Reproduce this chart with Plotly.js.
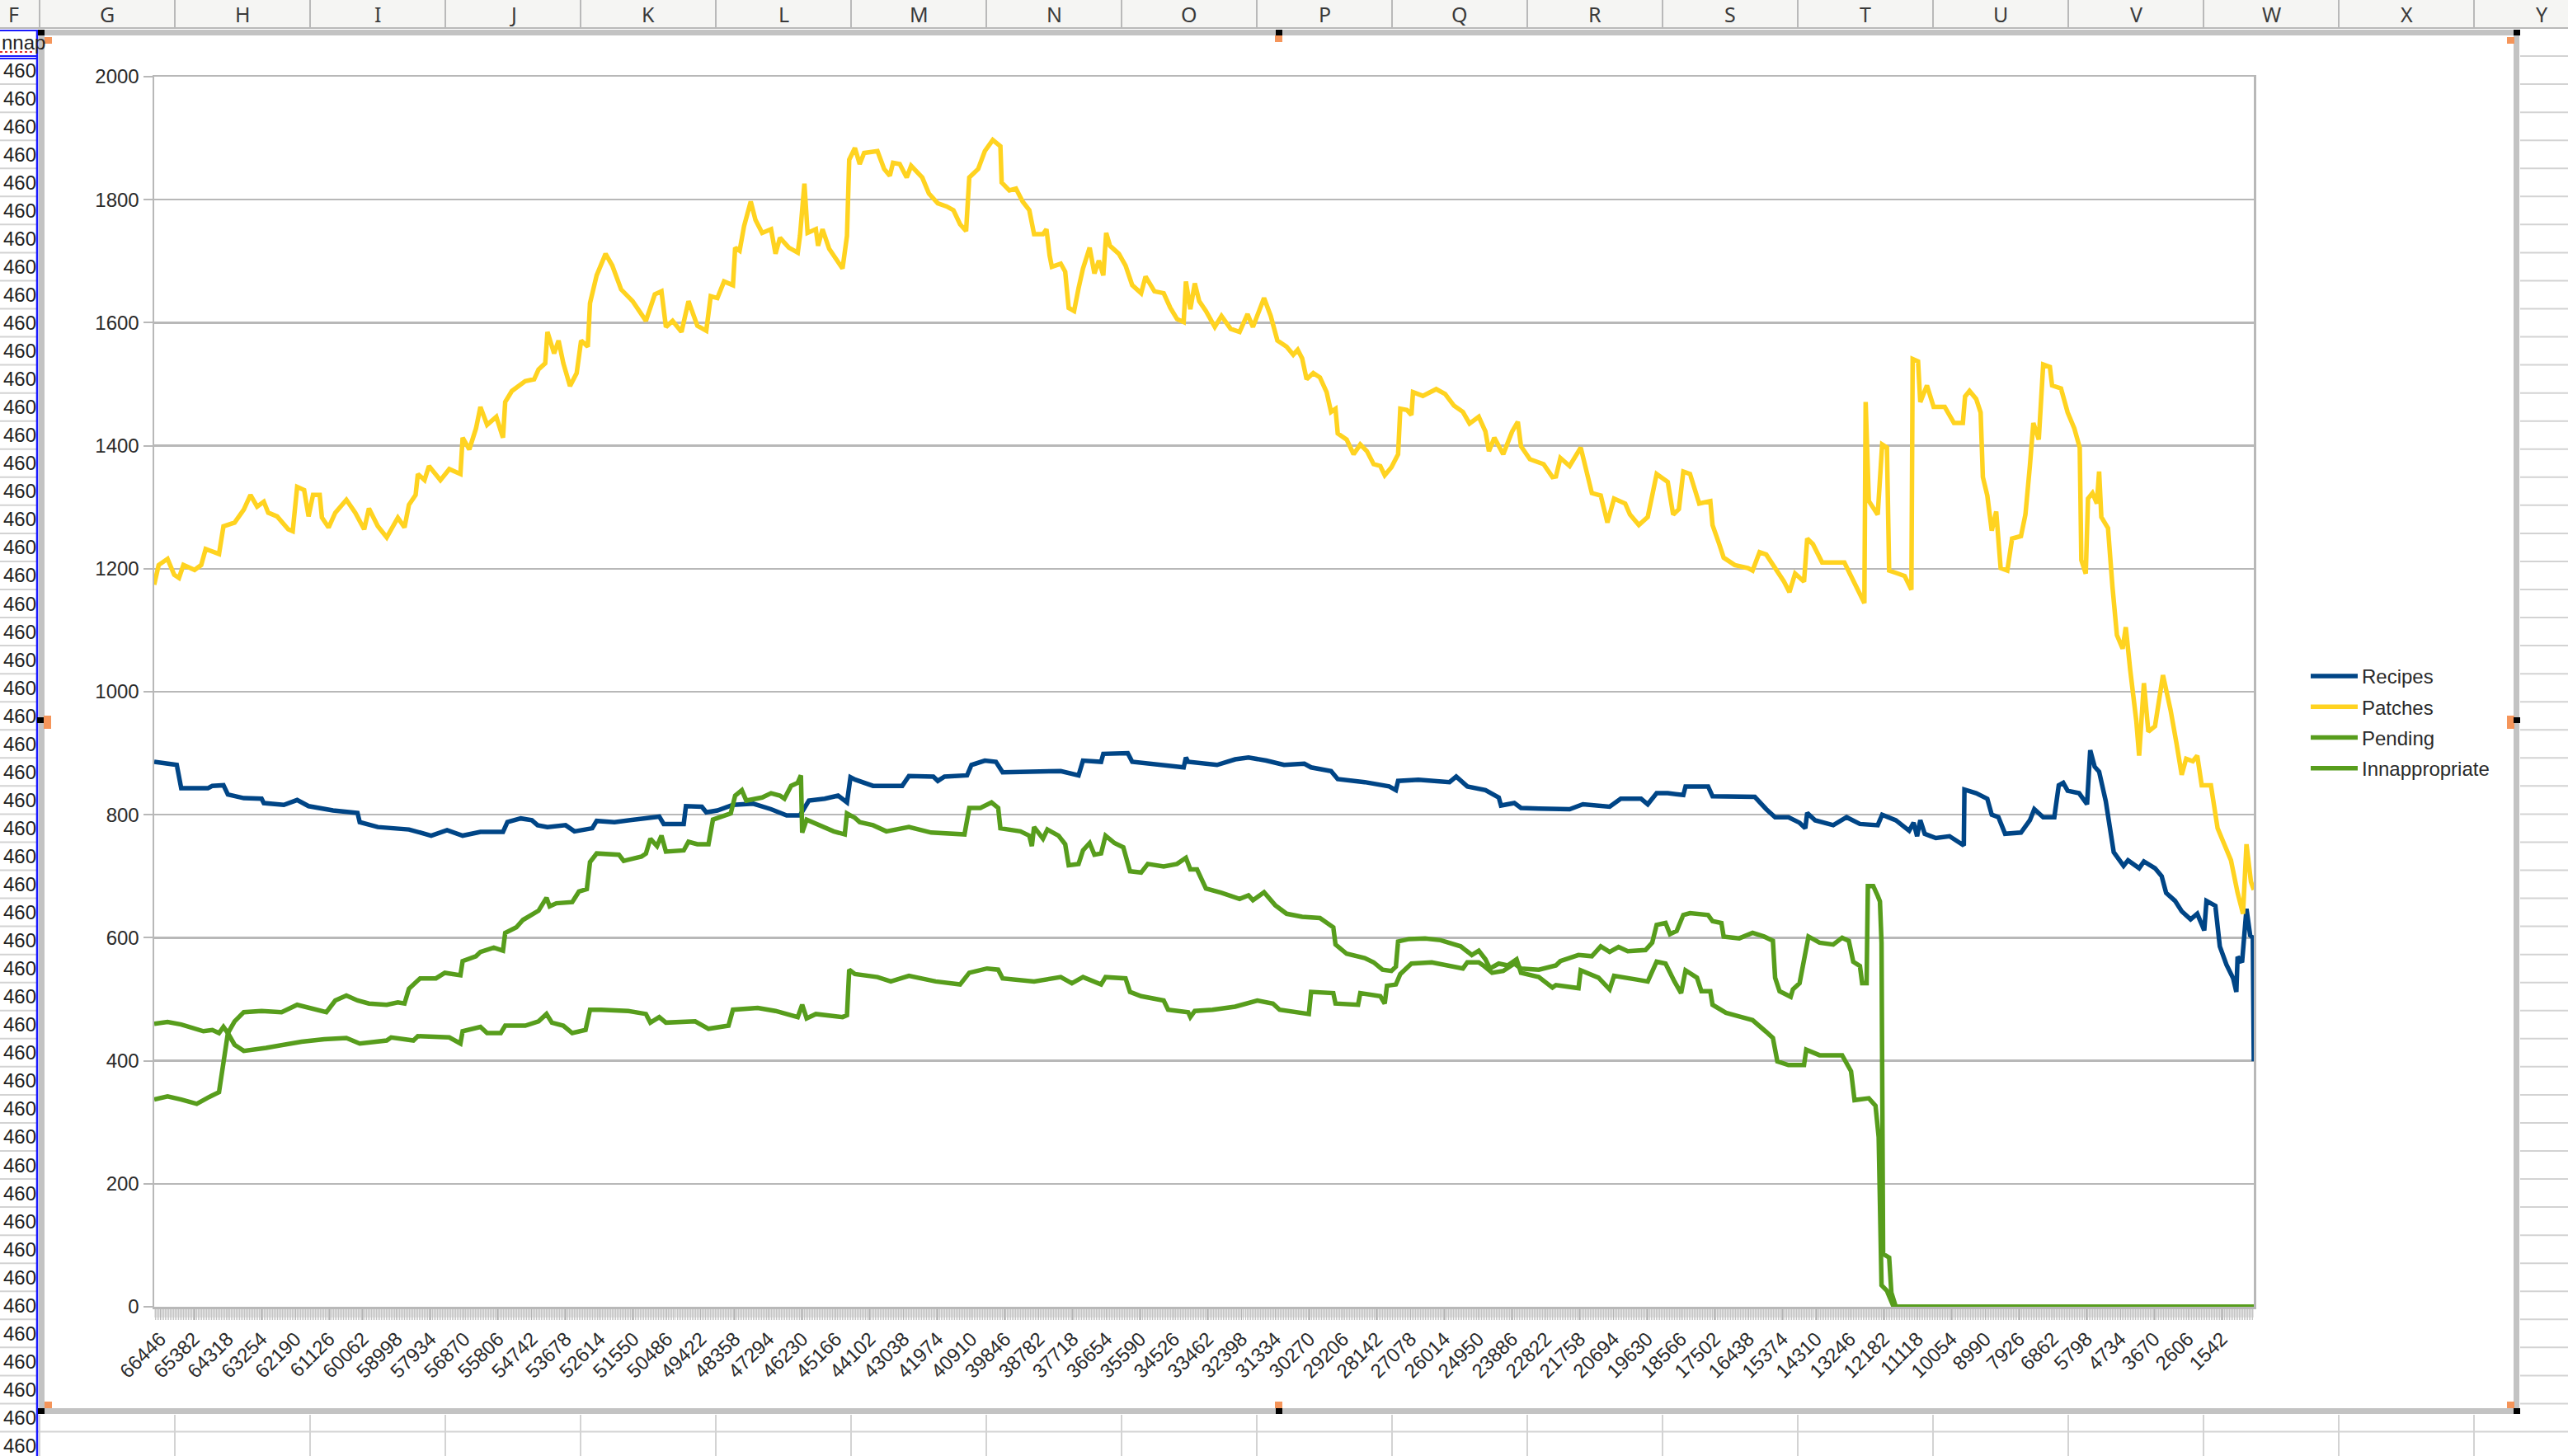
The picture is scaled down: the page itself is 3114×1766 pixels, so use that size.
<!DOCTYPE html>
<html><head><meta charset="utf-8">
<script src="https://cdn.plot.ly/plotly-3.0.1.min.js"></script>
<style>html,body{margin:0;padding:0;background:#fff;overflow:hidden}#chart{width:3114px;height:1766px}</style>
</head><body><div id="chart"></div>
<script>
// ---------- category tick labels (row ids) ----------
const tickLabels = [66446,65382,64318,63254,62190,61126,60062,58998,57934,56870,55806,54742,53678,52614,51550,50486,49422,48358,47294,46230,45166,44102,43038,41974,40910,39846,38782,37718,36654,35590,34526,33462,32398,31334,30270,29206,28142,27078,26014,24950,23886,22822,21758,20694,19630,18566,17502,16438,15374,14310,13246,12182,11118,10054,8990,7926,6862,5798,4734,3670,2606,1542];

const seriesNames = ["Recipes","Patches","Pending","Innappropriate"];

// ---------- Recipes ----------
const recipesX = [66630,65920,65780,64940,64800,64450,64310,63810,63250,63180,62550,62130,61770,61000,60230,60160,59590,58610,57910,57410,56920,56360,55650,55510,55090,54740,54560,54250,53680,53400,52840,52700,52140,51570,50730,50590,49960,49890,49390,49250,48900,48410,47770,47210,46720,46300,46020,45520,45100,44820,44710,44560,44000,43080,42870,42100,41960,41750,41040,40900,40480,40130,39920,38090,37530,37390,36820,36750,35980,35840,34990,34220,34150,34080,33170,32600,32180,31620,31060,30420,30210,29580,29370,28520,27750,27540,27470,26830,25850,25640,25290,24720,24300,24230,23810,23600,23040,22500,22070,21650,21090,20810,20460,19820,19610,19330,18980,18490,18420,17710,17570,17150,16240,15880,15600,15180,14830,14650,14590,14340,13770,13350,12930,12370,12230,11800,11380,11240,11130,11030,10890,10540,10110,9660,9640,9270,8920,8780,8570,8360,7860,7580,7440,7160,6810,6670,6530,6390,6030,5780,5680,5540,5400,5190,5050,4940,4630,4490,4140,3990,3640,3430,3290,3010,2800,2520,2310,2090,2020,1740,1600,1390,1180,1080,1040,900,760,645,560,530];
const recipesY = [886,881,843,843,847,848,833,827,826,819,816,824,814,807,803,788,780,776,766,775,766,772,772,788,794,791,783,780,783,773,778,790,788,791,797,785,785,814,813,804,807,816,818,809,799,799,823,826,831,820,861,857,847,847,863,862,855,862,864,881,888,886,869,871,864,888,886,899,900,886,881,877,893,886,881,890,893,888,881,883,877,871,858,853,846,840,855,857,853,862,846,840,828,815,819,811,810,809,809,817,815,813,826,826,817,835,835,832,846,846,830,830,829,809,796,796,787,778,803,791,783,796,785,783,800,791,774,787,765,791,769,762,765,750,841,835,826,800,796,769,771,791,809,796,796,848,852,839,835,817,905,878,870,822,778,739,717,726,713,724,713,700,673,660,643,630,639,612,660,652,586,556,534,512,569,560,647,604,600,399];

// ---------- Patches ----------
const patchesX = [66630,66490,66210,66000,65850,65710,65360,65150,65010,64590,64450,64100,63810,63600,63390,63180,63040,62760,62410,62270,62130,61910,61770,61630,61420,61350,61140,60930,60580,60300,60020,59870,59590,59310,58960,58750,58610,58400,58330,58120,57980,57620,57340,56990,56920,56710,56500,56360,56150,55860,55650,55580,55370,54950,54670,54530,54320,54250,54040,53900,53750,53540,53330,53190,52980,52910,52700,52420,52210,51930,51570,51150,50870,50660,50520,50310,50030,49810,49530,49250,49110,48900,48690,48410,48340,48200,48060,47850,47700,47490,47210,47070,46930,46650,46370,46300,46160,46060,45800,45730,45590,45380,45170,44960,44820,44750,44570,
44420,44280,43860,43650,43470,43370,43160,42940,42800,42450,42240,41960,41680,41470,41260,41070,40970,40690,40480,40230,39990,39950,39710,39500,39290,39080,38930,38650,38540,38440,38370,38090,37950,37840,37670,37530,37390,37180,37030,36890,36750,36660,36540,36260,36050,35840,35560,35420,35140,34850,34640,34430,34220,34150,34010,33870,33730,33520,33240,33030,32740,32460,32210,32040,31830,31690,31480,31270,30980,30770,30630,30490,30350,30140,29930,29720,29580,29440,29370,29090,28870,28660,28450,28240,28030,27890,27680,27470,27400,27190,27050,27000,26690,26270,25990,25710,25430,25220,24930,24720,24610,24440,24160,23880,23700,23600,23320,22890,22610,
22500,22360,22070,21720,21510,21370,21090,20880,20670,20320,20170,19890,19610,19470,19330,18980,18810,18630,18490,18280,17990,17640,17570,17360,17220,16870,16450,16310,16090,15880,15600,15320,15150,14970,14690,14590,14410,14120,13700,13420,13210,12930,12790,12750,12650,12370,12230,12080,12010,11730,11520,11310,11270,11100,11030,10820,10610,10260,9970,9690,9620,9480,9270,9130,9060,8920,8780,8640,8500,8290,8140,7860,7720,7580,7470,7300,7160,6950,6880,6600,6390,6180,6010,5960,5820,5750,5610,5470,5400,5330,5120,4980,4840,4660,4560,4420,4230,4140,3990,3850,3640,3390,3150,2970,2800,2660,2450,2310,2170,1880,1670,1460,1250,1040,870,760,620,530];
const patchesY = [1174,1206,1216,1190,1185,1206,1198,1206,1232,1224,1269,1275,1296,1320,1301,1309,1291,1285,1264,1261,1333,1328,1285,1320,1320,1283,1267,1291,1312,1291,1264,1298,1269,1251,1283,1267,1304,1320,1354,1344,1367,1344,1362,1354,1413,1394,1428,1463,1434,1447,1413,1471,1489,1505,1508,1524,1534,1585,1550,1571,1534,1497,1518,1571,1561,1632,1677,1712,1693,1654,1635,1603,1646,1651,1593,1603,1585,1635,1595,1587,1643,1640,1667,1661,1722,1717,1757,1797,1767,1746,1752,1712,1738,1722,1714,1741,1826,1746,1752,1725,1752,1720,1704,1688,1741,1865,1884,
1858,1876,1879,1850,1839,1860,1858,1836,1855,1836,1810,1794,1789,1783,1760,1749,1836,1850,1879,1897,1887,1828,1815,1818,1797,1783,1744,1744,1752,1709,1691,1696,1683,1624,1619,1656,1688,1722,1680,1701,1677,1746,1725,1712,1693,1661,1648,1675,1651,1648,1624,1606,1601,1667,1622,1664,1635,1619,1593,1611,1590,1585,1614,1593,1619,1640,1611,1571,1561,1548,1556,1542,1508,1518,1511,1487,1455,1460,1420,1410,1386,1402,1391,1370,1367,1352,1365,1386,1460,1458,1450,1487,1481,1492,1484,1465,1455,1436,1447,1423,1391,1413,1386,1423,1439,1399,1378,1370,1349,
1350,1380,1367,1397,1354,1323,1319,1275,1314,1306,1288,1271,1284,1319,1354,1341,1288,1297,1358,1354,1306,1310,1271,1240,1218,1206,1201,1197,1227,1223,1201,1179,1162,1192,1179,1249,1240,1210,1210,1210,1188,1157,1144,1471,1310,1288,1402,1397,1197,1192,1188,1166,1541,1537,1471,1498,1463,1463,1437,1437,1480,1489,1476,1454,1349,1319,1262,1293,1201,1197,1249,1253,1288,1367,1437,1410,1532,1528,1498,1493,1454,1428,1397,1214,1192,1314,1323,1306,1358,1284,1266,1171,1092,1070,1105,1035,953,896,1014,935,944,1027,970,918,865,891,887,896,848,848,778,752,726,673,639,752,691,678];

// ---------- Pending ----------
const pendingX = [66630,66210,65780,65500,65080,64800,64590,64450,64310,64100,63810,63110,62550,61990,61280,60580,60160,59310,59170,58470,58330,57340,56990,56920,56360,56150,55720,55580,54950,54530,54280,54110,53750,53470,53050,52910,52560,51710,51150,51010,50730,50520,49600,49180,48550,48410,47630,47070,46370,46230,46090,45800,44960,44820,44750,44570,
43860,43440,42870,42030,41260,40970,40410,40060,39920,38930,38090,37740,37390,36820,36680,36050,35910,35560,34850,34710,34080,34010,33870,33310,32600,31900,31410,31200,30280,30210,29510,29440,28730,28660,28030,27890,27820,27540,27400,27050,26410,25850,25430,25290,24930,24790,24510,24160,23810,23600,23040,22500,
22360,21790,21370,21090,20810,20530,20240,19680,19470,19330,19050,18910,18700,18490,18280,17710,17570,17290,17220,16730,16310,15950,15670,15600,15460,15110,15040,14830,14690,14550,14200,13770,13490,13280,13140,12930,12860,12720,12680,12510,12370,12300,12250,12230,12200,12010,11940,11800,530];
const pendingY = [460,463,459,455,448,450,445,455,445,426,416,421,426,431,435,437,428,433,438,433,440,438,428,448,455,445,445,457,457,464,476,462,457,445,450,483,483,481,476,462,471,462,464,452,457,483,486,481,471,491,469,476,471,474,548,541,
536,529,538,529,524,543,550,548,534,529,536,526,536,524,536,534,512,505,498,483,479,471,481,483,488,498,493,483,476,512,510,493,491,510,505,493,522,524,541,558,560,555,550,560,560,555,543,546,558,550,548,555,
562,572,570,586,577,585,578,580,592,621,624,606,611,637,640,637,627,624,602,599,608,602,595,535,513,504,516,526,567,602,592,589,600,595,561,554,526,526,684,684,668,659,592,339,86,80,23,0,0];

// ---------- Innappropriate ----------
const innapX = [66630,66210,65780,65290,64940,64590,64450,64310,64100,63810,63250,62620,62130,61560,61210,60930,60580,60230,59870,59310,58960,58750,58610,58260,57760,57480,56990,56920,56500,56360,55940,55650,55580,55230,55020,54530,54280,54180,53970,53470,53260,53010,52910,52700,52000,51850,51290,51150,51010,50800,50660,50520,49960,49810,49530,49180,49040,48480,48340,48130,47990,47490,47210,46930,46790,46580,46370,46270,46230,46090,45520,45240,44890,44820,44570,
44420,44000,43580,42870,42170,41120,40970,40620,40270,40060,39990,39360,39080,39000,38930,38650,38510,38160,37950,37840,37530,37390,37180,37030,36820,36680,36400,36120,35910,35560,35350,34850,34430,34150,34010,33800,33520,33030,32460,32180,32040,31690,31340,30980,30490,29930,29510,29440,29090,28520,28240,27960,27680,27540,27470,27120,26620,26130,25500,25150,24930,24720,24580,24300,24020,23740,23600,23040,22610,
22500,21790,21720,21160,20810,20670,19960,19610,19330,19050,18770,18560,18420,18060,17920,17640,17570,17150,16730,16310,15880,15670,15530,15180,14690,14620,14200,13490,13210,13100,12650,12440,12340,12250,12080,11870,530];
const innapY = [337,342,337,330,340,349,397,445,464,479,481,479,491,483,479,498,506,498,493,491,495,493,517,534,534,543,539,562,570,577,584,579,608,617,629,644,665,651,656,658,675,679,723,737,735,725,732,737,761,749,766,740,742,756,752,752,792,802,831,840,823,828,835,831,826,847,852,864,771,792,780,773,768,802,795,
788,783,773,780,771,768,811,811,820,811,778,773,766,749,780,761,776,766,752,718,720,742,754,735,737,766,754,747,708,706,720,716,720,730,711,711,680,673,663,669,661,674,653,639,634,632,617,589,574,567,560,548,546,553,594,598,599,596,586,572,579,565,550,558,555,565,543,536,519,
523,518,547,535,516,538,532,529,561,558,529,510,547,535,513,513,491,478,472,466,447,437,399,393,393,418,409,409,383,336,339,327,276,35,26,0,0];

// ---------- page geometry (pixels of the 3114x1766 page) ----------
const PL = 187, PR = 2733, PT = 93, PB = 1585;
const fx = x => (x - PL) / (PR - PL);
const fy = y => (PB - y) / (PB - PT);
const FONT = "Liberation Sans, Arial, sans-serif";
const shapes = [], annotations = [];
function seg(x0, y0, x1, y1, color, w, layer, dash) {
  shapes.push({type:'line', xref:'paper', yref:'paper', x0:fx(x0), x1:fx(x1), y0:fy(y0), y1:fy(y1),
    line:{color:color, width:w, dash:dash||'solid'}, layer:layer||'below'});
}
function box(x0, y0, x1, y1, fill, lc, lw, layer) {
  shapes.push({type:'rect', xref:'paper', yref:'paper', x0:fx(x0), x1:fx(x1), y0:fy(y1), y1:fy(y0),
    fillcolor:fill, line:{color:lc||'rgba(0,0,0,0)', width:lw||0}, layer:layer||'below'});
}
function txt(x, y, t, size, color, xa, fam) {
  annotations.push({xref:'paper', yref:'paper', x:fx(x), y:fy(y), text:t, showarrow:false,
    xanchor:xa||'center', yanchor:'middle', font:{size:size, color:color, family:fam||FONT}});
}

// spreadsheet cell grid outside the chart object
const ROW0 = 34, ROWH = 34.05, COL0 = 48, COLW = 164;
for (let k = 1; k <= 51; k++) {
  const y = ROW0 + ROWH * k;
  if (y > 1716) { seg(0, y, 3114, y, '#d3d3d3', 2); }
  else { seg(0, y, 46, y, '#d3d3d3', 2); seg(3056, y, 3114, y, '#d3d3d3', 2); }
}
for (let k = 0; k < 19; k++) seg(COL0 + COLW * k, 1716, COL0 + COLW * k, 1766, '#d3d3d3', 2);
// cell texts in column F
txt(0, 52, 'nnap', 24, '#222', 'left');
seg(0, 63, 42, 63, '#e03030', 2, 'below', 'dot');
for (let k = 1; k <= 50; k++) {
  const yc = ROW0 + ROWH * k + ROWH / 2;
  if (yc < 1766) txt(2, yc, '460', 24, '#222', 'left');
}
// selection borders (blue)
seg(0, 37, 45, 37, '#1a1aff', 2, 'above');
seg(0, 68, 45, 68, '#1a1aff', 2, 'above');
seg(0, 71, 45, 71, '#1a1aff', 2, 'above');
seg(45, 36, 45, 1766, '#1a1aff', 2.5, 'above');

// chart object frame
box(50.5, 39.5, 3051.5, 1711.5, '#ffffff', '#c3c3c3', 7, 'below');
// dense category tick band under the x axis
box(PL, 1586, PR, 1598, 'rgba(205,205,205,0.55)', null, 0, 'below');

// column header
box(0, 0, 3114, 34, '#f5f5f3', null, 0, 'above');
seg(0, 34, 3114, 34, '#b9b9b9', 2, 'above');
const colLetters = ['G','H','I','J','K','L','M','N','O','P','Q','R','S','T','U','V','W','X','Y'];
for (let k = 0; k < 19; k++) seg(COL0 + COLW * k, 0, COL0 + COLW * k, 34, '#b9b9b9', 2, 'above');
txt(16, 17, 'F', 25, '#3a3a3a', 'center', 'Noto Sans, sans-serif');
colLetters.forEach((c, k) => txt(130 + COLW * k, 17, c, 25, '#3a3a3a', 'center', 'Noto Sans, sans-serif'));

// selection handles of the chart object
const hBlack = [[46,36],[1547,36],[3048,36],[45,870],[3048,870],[46,1708],[1547,1708],[3048,1708]];
const hOrange = [[54,45],[1546,43],[3040,45],[53,868],[3040,868],[54,1700],[1546,1700],[3040,1700]];
hOrange.forEach(p => box(p[0], p[1], p[0] + 9, p[1] + (p[1] === 868 ? 16 : 8), '#f5955a', null, 0, 'above'));
hBlack.forEach(p => box(p[0], p[1], p[0] + 8, p[1] + 7, '#000000', null, 0, 'above'));

const colors = ['#004586', '#ffd320', '#579d1c', '#579d1c'];
const xs = [recipesX, patchesX, pendingX, innapX];
const ys = [recipesY, patchesY, pendingY, innapY];
const traces = seriesNames.map((n, i) => ({
  type:'scatter', mode:'lines', name:n, x:xs[i], y:ys[i], legendgroup:'g' + i,
  line:{color:colors[i], width:5.5}, hoverinfo:'skip'
}));

const layout = {
  width:3114, height:1766,
  margin:{l:PL, r:3114 - PR, t:PT, b:1766 - PB, pad:0},
  paper_bgcolor:'#ffffff', plot_bgcolor:'rgba(0,0,0,0)',
  font:{family:FONT, size:24, color:'#2a2a2a'},
  showlegend:true,
  legend:{x:fx(2797), xanchor:'left', y:fy(876), yanchor:'middle', bgcolor:'rgba(0,0,0,0)',
    font:{size:24, color:'#2a2a2a', family:FONT}, tracegroupgap:3, traceorder:'grouped', itemwidth:57},
  xaxis:{type:'linear', range:[66630, 530], tickmode:'array', tickvals:tickLabels,
    ticktext:tickLabels.map(String), tickangle:-45, ticks:'outside', ticklen:13, tickwidth:1,
    tickcolor:'#b3b3b3', tickfont:{size:24, family:FONT, color:'#2a2a2a'},
    showgrid:false, zeroline:false, showline:true, mirror:true, linecolor:'#b8b8b8', linewidth:2.5,
    minor:{ticks:'outside', ticklen:13, tickwidth:1, tickcolor:'#c4c4c4', tickmode:'linear', tick0:66446, dtick:52, showgrid:false}},
  yaxis:{range:[0, 2000], tickmode:'linear', tick0:0, dtick:200, ticks:'outside', ticklen:11,
    tickcolor:'#b8b8b8', tickwidth:2, tickfont:{size:24, family:FONT, color:'#2a2a2a'},
    showgrid:true, gridcolor:'#b8b8b8', gridwidth:2.5, zeroline:false,
    showline:true, mirror:true, linecolor:'#b8b8b8', linewidth:2.5},
  shapes:shapes, annotations:annotations
};
Plotly.newPlot('chart', traces, layout, {displayModeBar:false, staticPlot:true});
</script>
</body></html>
